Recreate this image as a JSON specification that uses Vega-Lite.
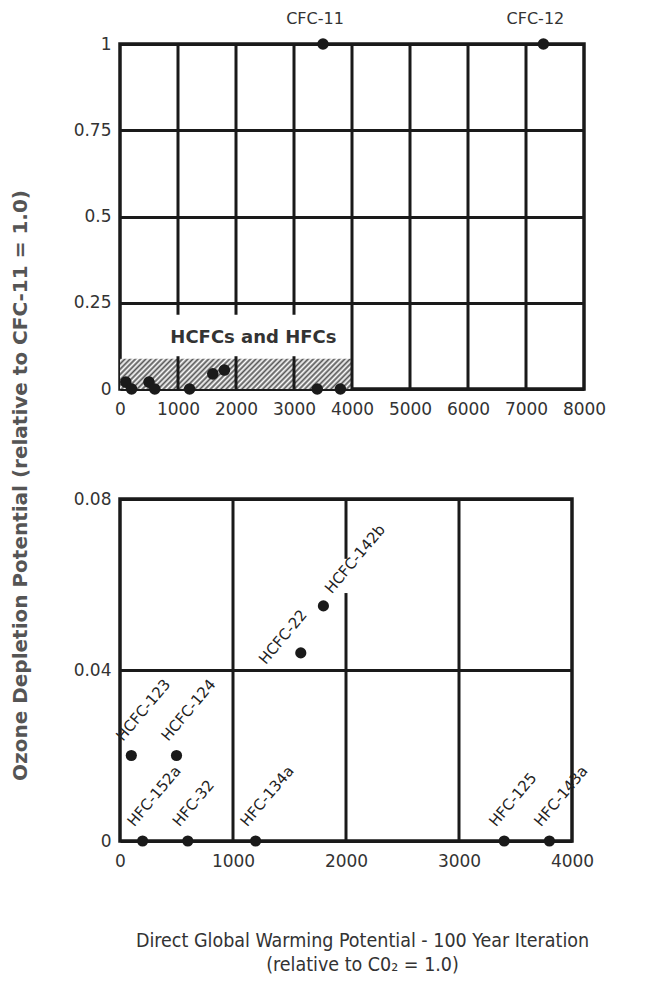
{
  "$schema": "https://vega.github.io/schema/vega-lite/v6.json",
  "background": "white",
  "padding": {"left": 8, "top": 9, "right": 5, "bottom": 5},
  "bounds": "flush",
  "spacing": 110,
  "config": {
    "view": {"stroke": "#1a1a1a", "strokeWidth": 3.5},
    "font": "DejaVu Sans",
    "axis": {"labelFont": "DejaVu Sans", "labelColor": "#333", "labelFontSize": 17, "domain": false, "ticks": false, "labelFlush": false, "labelOverlap": false}
  },
  "datasets": {
    "pts": [
      {"name": "CFC-11", "gwp": 3500, "odp": 1.0},
      {"name": "CFC-12", "gwp": 7300, "odp": 1.0},
      {"name": "HCFC-123", "gwp": 100, "odp": 0.02},
      {"name": "HCFC-124", "gwp": 500, "odp": 0.02},
      {"name": "HCFC-22", "gwp": 1600, "odp": 0.044},
      {"name": "HCFC-142b", "gwp": 1800, "odp": 0.055},
      {"name": "HFC-152a", "gwp": 200, "odp": 0},
      {"name": "HFC-32", "gwp": 600, "odp": 0},
      {"name": "HFC-134a", "gwp": 1200, "odp": 0},
      {"name": "HFC-125", "gwp": 3400, "odp": 0},
      {"name": "HFC-143a", "gwp": 3800, "odp": 0}
    ],
    "topRules": [
      {"gwp": 1000, "odp": 0.215, "odp2": 1}, {"gwp": 1000, "odp": 0, "odp2": 0.095},
      {"gwp": 2000, "odp": 0.215, "odp2": 1}, {"gwp": 2000, "odp": 0, "odp2": 0.095},
      {"gwp": 3000, "odp": 0.215, "odp2": 1}, {"gwp": 3000, "odp": 0, "odp2": 0.095},
      {"gwp": 4000, "odp": 0, "odp2": 1}, {"gwp": 5000, "odp": 0, "odp2": 1},
      {"gwp": 6000, "odp": 0, "odp2": 1}, {"gwp": 7000, "odp": 0, "odp2": 1}
    ],
    "bottomRules": [
      {"gwp": 1000, "odp": 0, "odp2": 0.08},
      {"gwp": 2000, "odp": 0.066, "odp2": 0.08}, {"gwp": 2000, "odp": 0, "odp2": 0.058},
      {"gwp": 3000, "odp": 0, "odp2": 0.08}
    ],
    "hatch": [{"gwp": 0, "gwp2": 4000, "odp": 0, "odp2": 0.088}],
    "regionLabel": [{"gwp": 2300, "odp": 0.148, "label": "HCFCs and HFCs"}]
  },
  "vconcat": [
    {
      "width": 464,
      "height": 345,
      "encoding": {
        "x": {"field": "gwp", "type": "quantitative",
          "scale": {"domain": [0, 8000], "nice": false, "zero": false},
          "axis": {"values": [0, 1000, 2000, 3000, 4000, 5000, 6000, 7000, 8000], "format": "d", "title": null, "grid": false, "labelPadding": 12}},
        "y": {"field": "odp", "type": "quantitative",
          "scale": {"domain": [0, 1], "nice": false},
          "axis": {"values": [0, 0.25, 0.5, 0.75, 1], "labelExpr": "'' + datum.value", "grid": true, "gridColor": "#1a1a1a", "gridWidth": 3, "labelPadding": 9,
            "title": "Ozone Depletion Potential (relative to CFC-11 = 1.0)",
            "titleX": -100, "titleY": 441, "titleAlign": "center", "titleBaseline": "middle", "titleAngle": -90,
            "titleFont": "DejaVu Sans", "titleFontSize": 20, "titleFontWeight": "bold", "titleColor": "#555"}}
      },
      "layer": [
        {
          "data": {"name": "hatch"},
          "mark": {"type": "rect", "fill": {"gradient": "linear", "x1": 0, "y1": 0, "x2": 1.11, "y2": 0.143, "stops": [
            {"offset": 0, "color": "#555"}, {"offset": 0.01, "color": "#fff"}, {"offset": 0.02, "color": "#555"}, {"offset": 0.03, "color": "#fff"}, {"offset": 0.04, "color": "#555"}, {"offset": 0.05, "color": "#fff"}, {"offset": 0.06, "color": "#555"}, {"offset": 0.07, "color": "#fff"}, {"offset": 0.08, "color": "#555"}, {"offset": 0.09, "color": "#fff"},
            {"offset": 0.10, "color": "#555"}, {"offset": 0.11, "color": "#fff"}, {"offset": 0.12, "color": "#555"}, {"offset": 0.13, "color": "#fff"}, {"offset": 0.14, "color": "#555"}, {"offset": 0.15, "color": "#fff"}, {"offset": 0.16, "color": "#555"}, {"offset": 0.17, "color": "#fff"}, {"offset": 0.18, "color": "#555"}, {"offset": 0.19, "color": "#fff"},
            {"offset": 0.20, "color": "#555"}, {"offset": 0.21, "color": "#fff"}, {"offset": 0.22, "color": "#555"}, {"offset": 0.23, "color": "#fff"}, {"offset": 0.24, "color": "#555"}, {"offset": 0.25, "color": "#fff"}, {"offset": 0.26, "color": "#555"}, {"offset": 0.27, "color": "#fff"}, {"offset": 0.28, "color": "#555"}, {"offset": 0.29, "color": "#fff"},
            {"offset": 0.30, "color": "#555"}, {"offset": 0.31, "color": "#fff"}, {"offset": 0.32, "color": "#555"}, {"offset": 0.33, "color": "#fff"}, {"offset": 0.34, "color": "#555"}, {"offset": 0.35, "color": "#fff"}, {"offset": 0.36, "color": "#555"}, {"offset": 0.37, "color": "#fff"}, {"offset": 0.38, "color": "#555"}, {"offset": 0.39, "color": "#fff"},
            {"offset": 0.40, "color": "#555"}, {"offset": 0.41, "color": "#fff"}, {"offset": 0.42, "color": "#555"}, {"offset": 0.43, "color": "#fff"}, {"offset": 0.44, "color": "#555"}, {"offset": 0.45, "color": "#fff"}, {"offset": 0.46, "color": "#555"}, {"offset": 0.47, "color": "#fff"}, {"offset": 0.48, "color": "#555"}, {"offset": 0.49, "color": "#fff"},
            {"offset": 0.50, "color": "#555"}, {"offset": 0.51, "color": "#fff"}, {"offset": 0.52, "color": "#555"}, {"offset": 0.53, "color": "#fff"}, {"offset": 0.54, "color": "#555"}, {"offset": 0.55, "color": "#fff"}, {"offset": 0.56, "color": "#555"}, {"offset": 0.57, "color": "#fff"}, {"offset": 0.58, "color": "#555"}, {"offset": 0.59, "color": "#fff"},
            {"offset": 0.60, "color": "#555"}, {"offset": 0.61, "color": "#fff"}, {"offset": 0.62, "color": "#555"}, {"offset": 0.63, "color": "#fff"}, {"offset": 0.64, "color": "#555"}, {"offset": 0.65, "color": "#fff"}, {"offset": 0.66, "color": "#555"}, {"offset": 0.67, "color": "#fff"}, {"offset": 0.68, "color": "#555"}, {"offset": 0.69, "color": "#fff"},
            {"offset": 0.70, "color": "#555"}, {"offset": 0.71, "color": "#fff"}, {"offset": 0.72, "color": "#555"}, {"offset": 0.73, "color": "#fff"}, {"offset": 0.74, "color": "#555"}, {"offset": 0.75, "color": "#fff"}, {"offset": 0.76, "color": "#555"}, {"offset": 0.77, "color": "#fff"}, {"offset": 0.78, "color": "#555"}, {"offset": 0.79, "color": "#fff"},
            {"offset": 0.80, "color": "#555"}, {"offset": 0.81, "color": "#fff"}, {"offset": 0.82, "color": "#555"}, {"offset": 0.83, "color": "#fff"}, {"offset": 0.84, "color": "#555"}, {"offset": 0.85, "color": "#fff"}, {"offset": 0.86, "color": "#555"}, {"offset": 0.87, "color": "#fff"}, {"offset": 0.88, "color": "#555"}, {"offset": 0.89, "color": "#fff"},
            {"offset": 0.90, "color": "#555"}, {"offset": 0.91, "color": "#fff"}, {"offset": 0.92, "color": "#555"}, {"offset": 0.93, "color": "#fff"}, {"offset": 0.94, "color": "#555"}, {"offset": 0.95, "color": "#fff"}, {"offset": 0.96, "color": "#555"}, {"offset": 0.97, "color": "#fff"}, {"offset": 0.98, "color": "#555"}, {"offset": 0.99, "color": "#fff"},
            {"offset": 1.0, "color": "#555"}
          ]}},
          "encoding": {"x2": {"field": "gwp2"}, "y2": {"field": "odp2"}}
        },
        {
          "data": {"name": "topRules"},
          "mark": {"type": "rule", "strokeWidth": 3, "color": "#1a1a1a"},
          "encoding": {"y2": {"field": "odp2"}}
        },
        {
          "data": {"name": "pts"},
          "mark": {"type": "circle", "size": 135, "color": "#1a1a1a", "opacity": 1}
        },
        {
          "data": {"name": "pts"},
          "transform": [{"filter": "datum.odp >= 1"}],
          "mark": {"type": "text", "dx": -8, "dy": -25, "baseline": "middle", "align": "center", "fontSize": 16, "color": "#333", "font": "DejaVu Sans"},
          "encoding": {"text": {"field": "name"}}
        },
        {
          "data": {"name": "regionLabel"},
          "mark": {"type": "text", "baseline": "middle", "align": "center", "fontSize": 18, "fontWeight": "bold", "color": "#333", "font": "DejaVu Sans"},
          "encoding": {"text": {"field": "label"}}
        }
      ]
    },
    {
      "width": 452,
      "height": 342,
      "encoding": {
        "x": {"field": "gwp", "type": "quantitative",
          "scale": {"domain": [0, 4000], "nice": false, "zero": false},
          "axis": {"values": [0, 1000, 2000, 3000, 4000], "format": "d", "grid": false, "labelPadding": 12,
            "title": ["Direct Global Warming Potential - 100 Year Iteration", "(relative to C0\u2082 = 1.0)"],
            "titleX": 242, "titleY": 90, "titleAlign": "center", "titleBaseline": "top", "titleLineHeight": 24,
            "titleFont": "DejaVu Sans Condensed", "titleFontSize": 19.5, "titleFontWeight": "normal", "titleColor": "#333"}},
        "y": {"field": "odp", "type": "quantitative",
          "scale": {"domain": [0, 0.08], "nice": false},
          "axis": {"values": [0, 0.04, 0.08], "labelExpr": "'' + datum.value", "grid": true, "gridColor": "#1a1a1a", "gridWidth": 3, "labelPadding": 9, "title": null}}
      },
      "layer": [
        {
          "data": {"name": "bottomRules"},
          "mark": {"type": "rule", "strokeWidth": 3, "color": "#1a1a1a"},
          "encoding": {"y2": {"field": "odp2"}}
        },
        {
          "data": {"name": "pts"},
          "transform": [{"filter": "datum.odp < 0.1"}],
          "mark": {"type": "circle", "size": 125, "color": "#1a1a1a", "opacity": 1}
        },
        {
          "data": {"name": "pts"},
          "transform": [{"filter": "datum.odp < 0.1 && datum.name != 'HCFC-22' && datum.name != 'HCFC-142b'"}],
          "mark": {"type": "text", "angle": -50, "align": "left", "baseline": "alphabetic", "dx": 5, "dy": -15, "fontSize": 15, "color": "#222", "font": "DejaVu Sans"},
          "encoding": {"text": {"field": "name"}}
        },
        {
          "data": {"name": "pts"},
          "transform": [{"filter": "datum.name == 'HCFC-22'"}],
          "mark": {"type": "text", "angle": -50, "align": "left", "baseline": "alphabetic", "dx": -32, "dy": -19, "fontSize": 15, "color": "#222", "font": "DejaVu Sans"},
          "encoding": {"text": {"field": "name"}}
        },
        {
          "data": {"name": "pts"},
          "transform": [{"filter": "datum.name == 'HCFC-142b'"}],
          "mark": {"type": "text", "angle": -50, "align": "left", "baseline": "alphabetic", "dx": 14, "dy": -1, "fontSize": 15, "color": "#222", "font": "DejaVu Sans"},
          "encoding": {"text": {"field": "name"}}
        }
      ]
    }
  ]
}
